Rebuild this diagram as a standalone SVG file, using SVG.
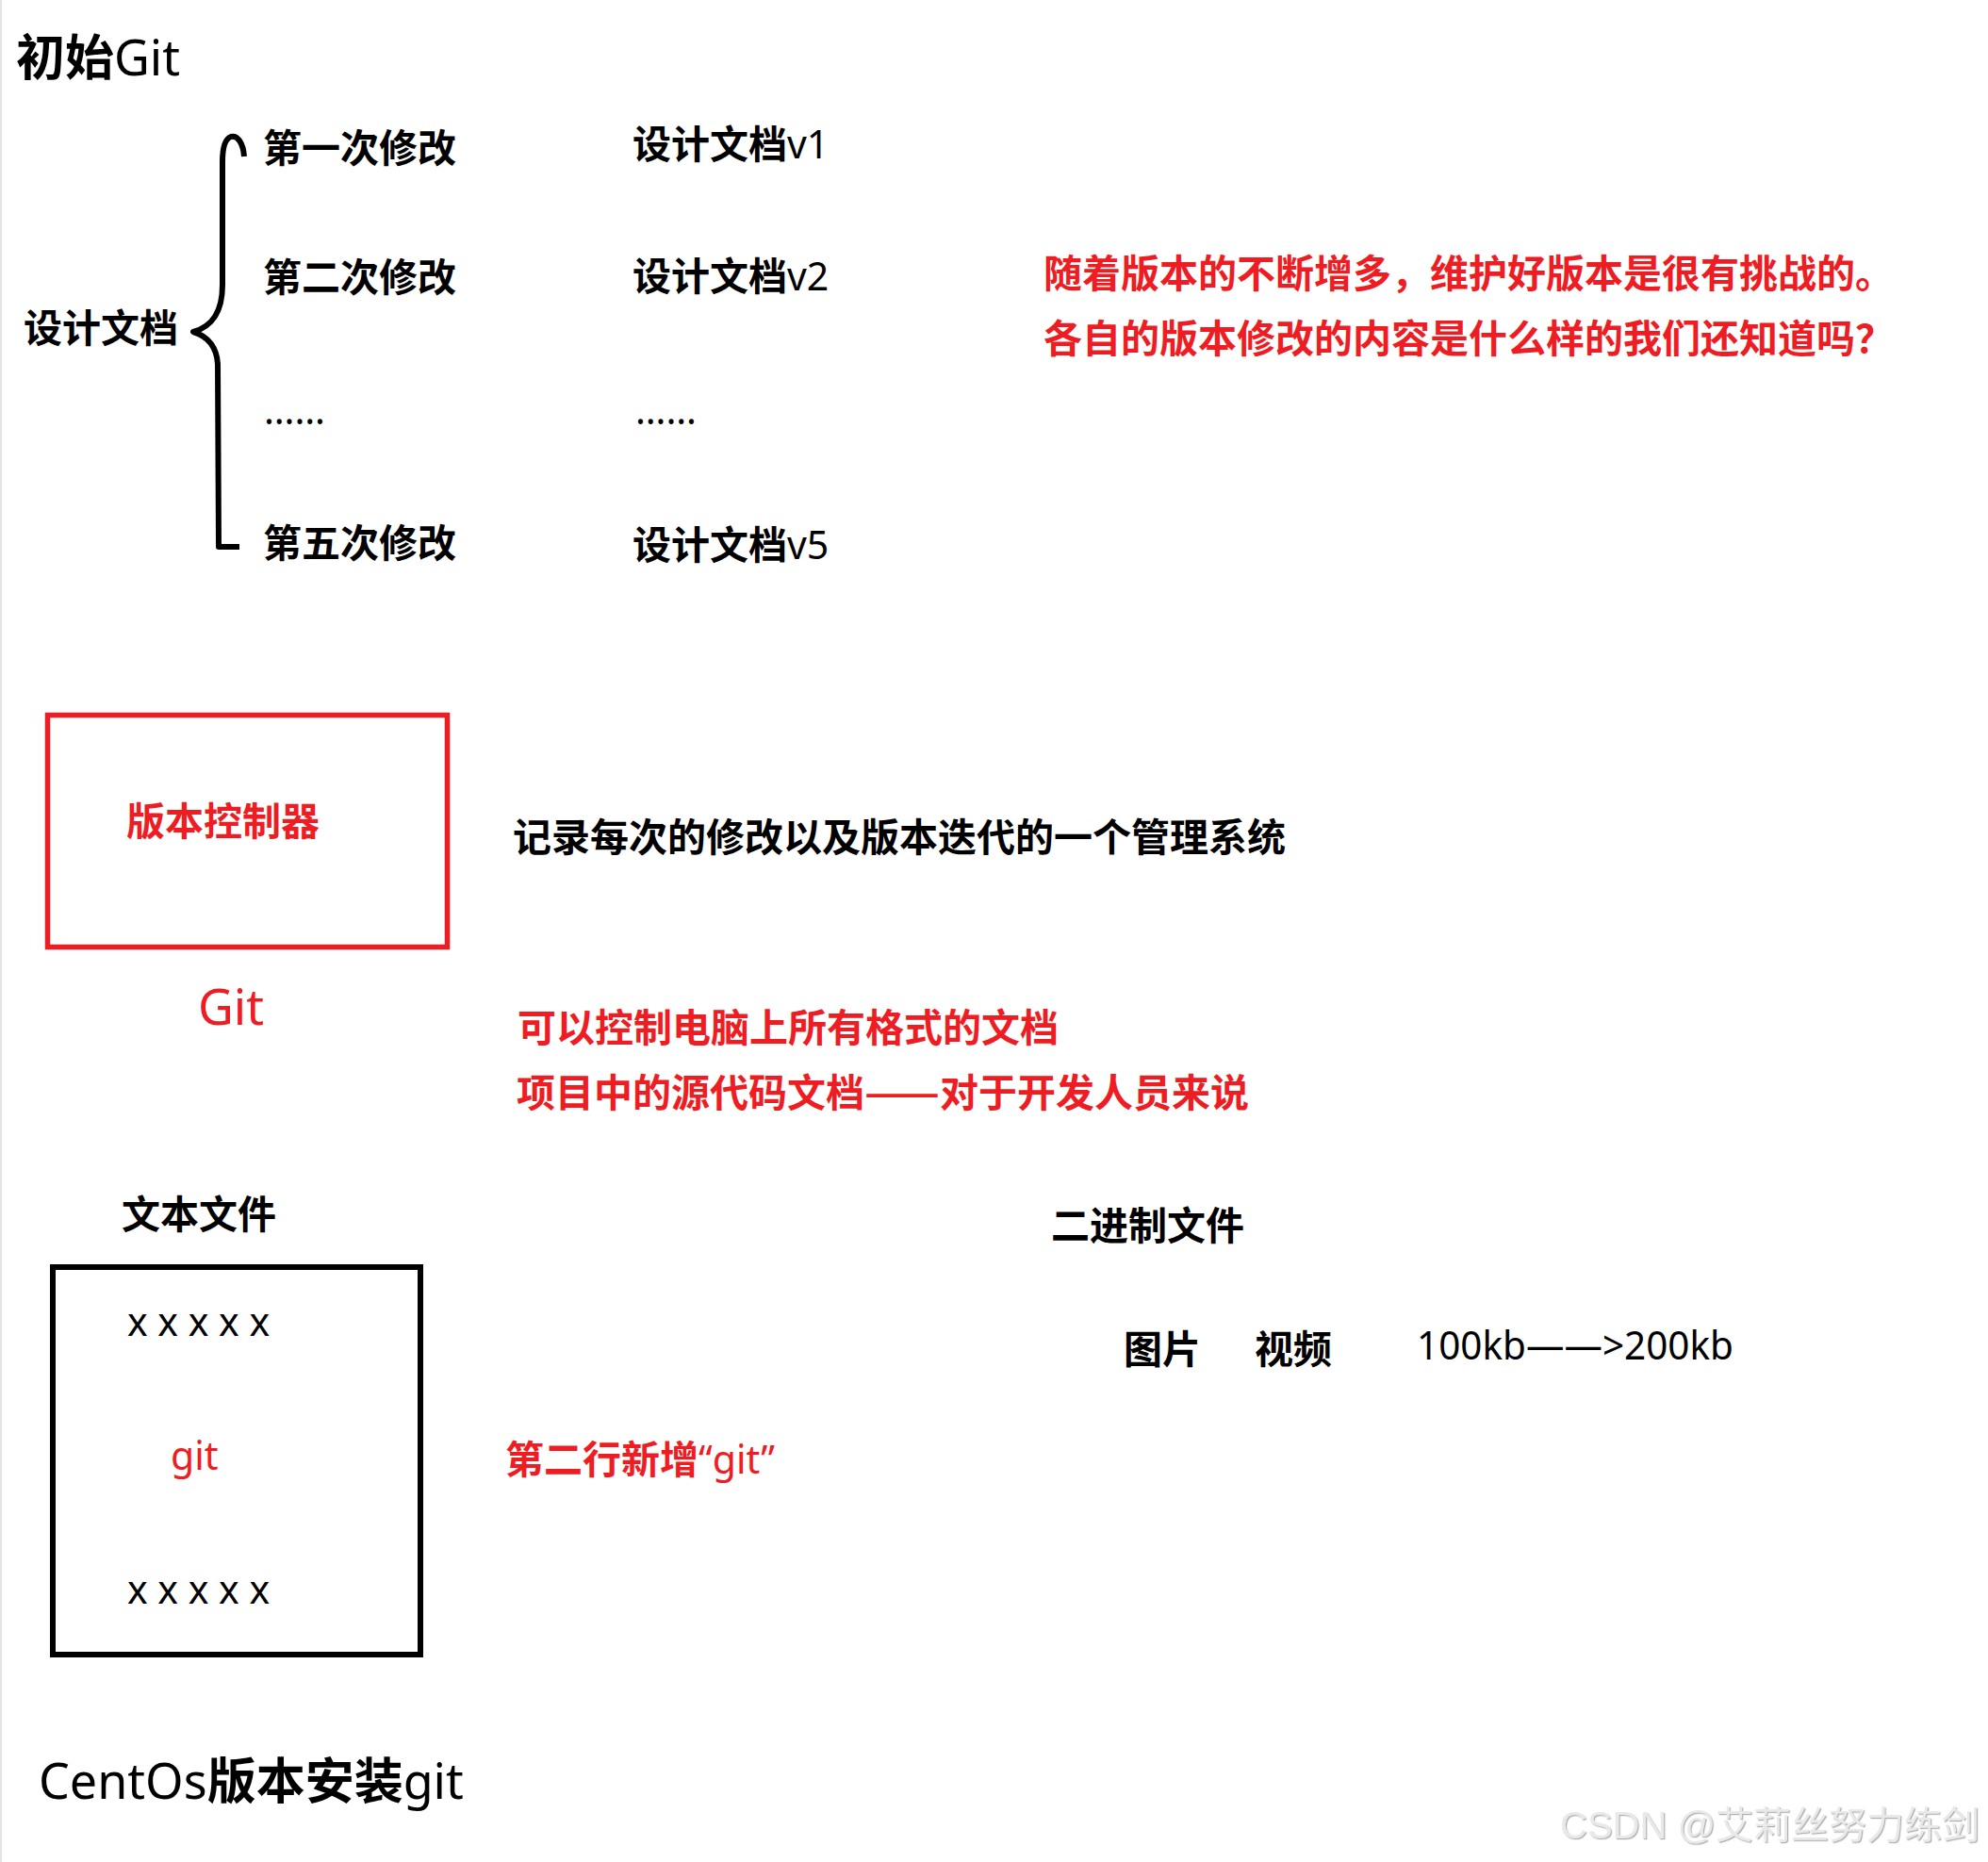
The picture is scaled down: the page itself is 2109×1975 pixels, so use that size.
<svg xmlns="http://www.w3.org/2000/svg" width="2109" height="1975" viewBox="0 0 2109 1975">
<defs>
<style>
.cjk { font-family: "Noto Sans CJK SC", "Noto Sans", sans-serif; font-weight: 700; font-size: 41px; fill: #000; }
.lat { font-family: "Noto Sans", "Noto Sans CJK SC", sans-serif; font-weight: 400; }
.red { fill: #ee1d23; }
.big { font-size: 52px; }
.wm { font-family: "Liberation Sans", "Noto Sans CJK SC", sans-serif; font-weight: 400; font-size: 40px; fill: #e9e9e9; }
</style>
<filter id="emboss" x="-5%" y="-20%" width="110%" height="140%">
<feDropShadow dx="1.2" dy="1.2" stdDeviation="0.6" flood-color="#a8a8a8" flood-opacity="0.9"/>
</filter>
</defs>
<rect x="0" y="0" width="2109" height="1975" fill="#ffffff"/>
<rect x="0" y="0" width="2" height="1975" fill="#e4e4e4"/>

<g id="title">
<text x="17" y="80" class="cjk big">初始<tspan class="lat">Git</tspan></text>
</g>

<g id="design-doc">
<text x="25" y="363" class="cjk">设计文档</text>
</g>

<g id="connectors">
<path d="M 259 166 C 258 152, 252 143, 245 145 C 239 147, 236 156, 236 172 L 236 302 C 236 330, 226 346, 205 352 C 222 357, 230 370, 231 386 L 232 580 L 254 580" fill="none" stroke="#000" stroke-width="6" stroke-linejoin="round"/>
</g>

<g id="rev1"><text x="279" y="172" class="cjk">第一次修改</text></g>
<g id="rev2"><text x="279" y="309" class="cjk">第二次修改</text></g>
<g id="rev-more"><text x="280" y="450" class="cjk lat">……</text></g>
<g id="rev5"><text x="279" y="591" class="cjk">第五次修改</text></g>

<g id="doc-v1"><text x="671" y="168" class="cjk">设计文档<tspan class="lat">v1</tspan></text></g>
<g id="doc-v2"><text x="671" y="308" class="cjk">设计文档<tspan class="lat">v2</tspan></text></g>
<g id="doc-more"><text x="674" y="450" class="cjk lat">……</text></g>
<g id="doc-v5"><text x="671" y="593" class="cjk">设计文档<tspan class="lat">v5</tspan></text></g>

<g id="challenge-note">
<text x="1107" y="305" class="cjk red">随着版本的不断增多，维护好版本是很有挑战的。</text>
<text x="1107" y="374" class="cjk red">各自的版本修改的内容是什么样的我们还知道吗？</text>
</g>

<g id="vcs-box">
<rect x="50.5" y="758.5" width="424" height="246" fill="none" stroke="#ee1d23" stroke-width="5.5"/>
<text x="134" y="886" class="cjk red">版本控制器</text>
</g>

<g id="vcs-desc">
<text x="544" y="903" class="cjk">记录每次的修改以及版本迭代的一个管理系统</text>
</g>

<g id="git-label">
<text x="210" y="1087" class="cjk lat red big">Git</text>
</g>

<g id="git-note">
<text x="549" y="1105" class="cjk red">可以控制电脑上所有格式的文档</text>
<text x="548" y="1174" class="cjk red">项目中的源代码文档<tspan textLength="80" lengthAdjust="spacingAndGlyphs">——</tspan>对于开发人员来说</text>
</g>

<g id="text-file">
<text x="129" y="1303" class="cjk">文本文件</text>
<rect x="56" y="1344" width="390" height="411" fill="none" stroke="#000" stroke-width="6"/>
<text x="135" y="1417" class="cjk lat">x x x x x</text>
<text x="181" y="1559" class="cjk lat red">git</text>
<text x="135" y="1701" class="cjk lat">x x x x x</text>
</g>

<g id="line-note">
<text x="536" y="1563" class="cjk red">第二行新增<tspan class="lat">“git”</tspan></text>
</g>

<g id="binary-file">
<text x="1115" y="1315" class="cjk">二进制文件</text>
<text x="1192" y="1446" class="cjk">图片</text>
<text x="1331" y="1446" class="cjk">视频</text>
<text x="1503" y="1442" class="cjk lat" textLength="336" lengthAdjust="spacingAndGlyphs">100kb——&gt;200kb</text>
</g>

<g id="centos">
<text x="41" y="1908" class="cjk" style="font-size:52px"><tspan class="lat">CentOs</tspan>版本安装<tspan class="lat">git</tspan></text>
</g>

<g id="watermark">
<text x="1655" y="1950" class="wm" filter="url(#emboss)">CSDN @艾莉丝努力练剑</text>
</g>
</svg>
